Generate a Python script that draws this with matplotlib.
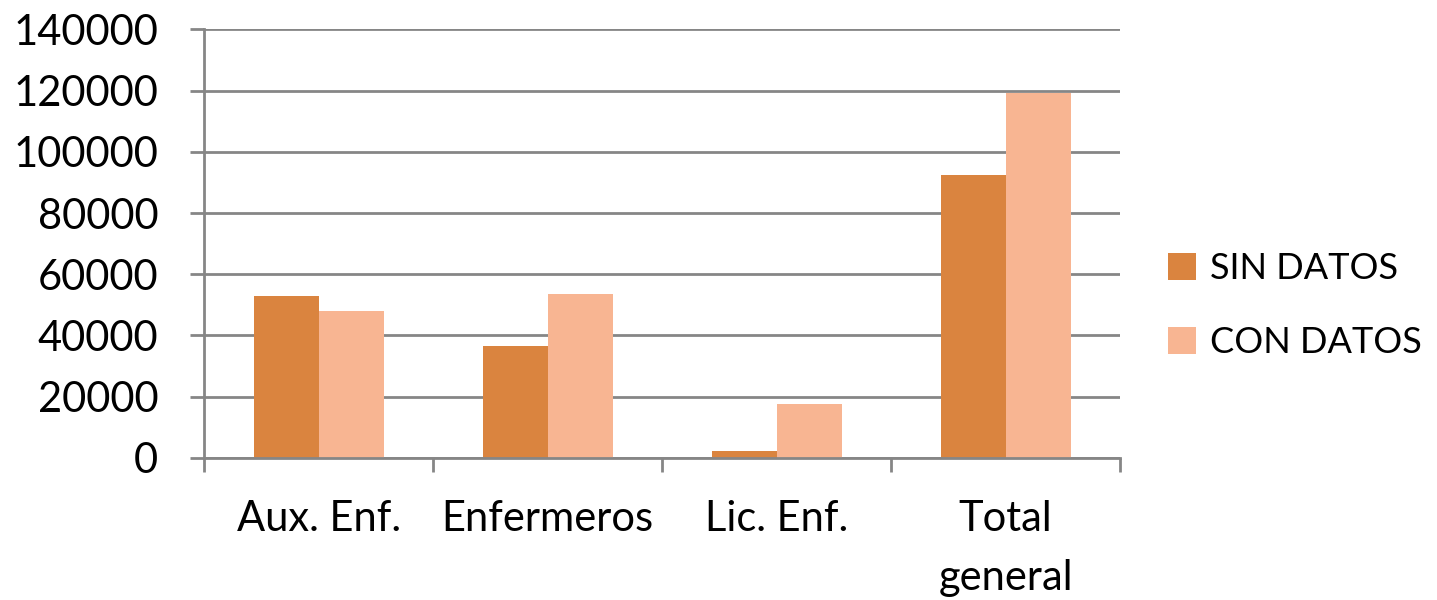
import matplotlib.pyplot as plt
import numpy as np

plt.rcParams['font.family'] = ['Lato', 'DejaVu Sans']

categorias = ['Aux. Enf.', 'Enfermeros', 'Lic. Enf.', 'Total\ngeneral']
sin_datos = [52900, 36600, 2400, 92300]
con_datos = [47900, 53400, 17700, 119300]

color_sin = '#DA843F'
color_con = '#F8B592'
gris = '#868686'

fig = plt.figure(figsize=(14.37, 6.0), dpi=100)
ax = fig.add_axes([0.142, 0.2367, 0.6375, 0.7145])

x = np.arange(len(categorias))
ancho = 0.284
ax.bar(x - ancho / 2, sin_datos, ancho, color=color_sin, label='SIN DATOS', zorder=3)
ax.bar(x + ancho / 2, con_datos, ancho, color=color_con, label='CON DATOS', zorder=3)

ax.set_xlim(-0.5, len(categorias) - 0.5)
ax.set_ylim(0, 140000)
ax.set_yticks(range(0, 140001, 20000))
ax.yaxis.grid(True, color=gris, linewidth=2, zorder=0)

# ticks del eje x en los bordes de las categorias, etiquetas en el centro
ax.set_xticks(np.arange(-0.5, len(categorias), 1.0))
ax.set_xticklabels([])
ax.set_xticks(x, minor=True)
ax.set_xticklabels(categorias, minor=True, linespacing=1.7)
ax.tick_params(axis='x', which='minor', length=0, pad=30, labelsize=30)
ax.tick_params(axis='x', which='major', length=10, width=2, color=gris)
ax.tick_params(axis='y', length=10, width=2, color=gris, labelsize=30, pad=23)

for s in ['top', 'right']:
    ax.spines[s].set_visible(False)
for s in ['left', 'bottom']:
    ax.spines[s].set_color(gris)
    ax.spines[s].set_linewidth(2)
ax.spines['bottom'].set_zorder(4)

ax.legend(loc='center left', bbox_to_anchor=(1.052, 0.356), frameon=False,
          fontsize=26, borderpad=0, borderaxespad=0,
          handlelength=0.78, handleheight=0.78, handletextpad=0.39,
          labelspacing=1.14)

fig.savefig('out.png', dpi=100)
